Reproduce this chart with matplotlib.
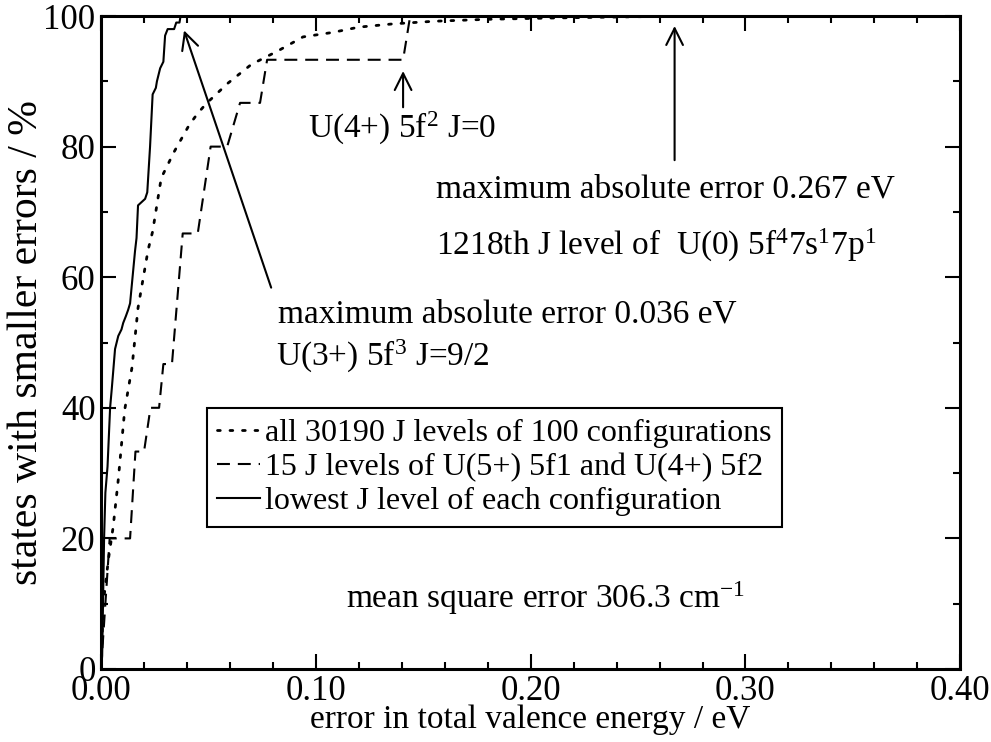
import matplotlib
matplotlib.use("Agg")
import matplotlib.pyplot as plt
from matplotlib.ticker import MultipleLocator, FormatStrFormatter

plt.rcParams["font.family"] = ["Liberation Serif", "DejaVu Serif"]
plt.rcParams["mathtext.fontset"] = "custom"
plt.rcParams["mathtext.rm"] = "Liberation Serif"
plt.rcParams["mathtext.it"] = "Liberation Serif:italic"
plt.rcParams["mathtext.default"] = "rm"

# datos: error (eV) y porcentaje acumulado
todos_x = [0.0, 0.001, 0.0035, 0.0056, 0.008, 0.011, 0.0144, 0.0172, 0.0219, 0.024,
           0.028, 0.034, 0.041, 0.045, 0.049, 0.059, 0.070, 0.082, 0.094, 0.108,
           0.120, 0.136, 0.155, 0.18, 0.21, 0.25, 0.298]
todos_y = [0.0, 10.0, 17.0, 21.7, 29.0, 39.7, 46.2, 55.3, 64.2, 67.0,
           75.2, 79.2, 83.3, 85.1, 86.6, 89.7, 92.6, 94.6, 96.8, 97.5,
           98.3, 98.8, 99.2, 99.5, 99.7, 99.9, 100.0]

u_x = [0.0, 0.004, 0.0135, 0.016, 0.020, 0.023, 0.027, 0.029, 0.033, 0.038,
       0.045, 0.051, 0.0587, 0.0647, 0.074, 0.0773, 0.1406, 0.1439, 0.145]
u_y = [0.0, 20.0, 20.0, 33.3, 33.3, 40.0, 40.0, 46.7, 46.7, 66.7,
       66.7, 80.0, 80.0, 86.7, 86.7, 93.3, 93.3, 100.0, 100.0]

bajo_x = [0.0, 0.0005, 0.0014, 0.002, 0.003, 0.0042, 0.005, 0.0065, 0.008, 0.0095,
          0.0103, 0.0115, 0.0126, 0.0135, 0.0158, 0.0165, 0.0172, 0.0205, 0.0215, 0.0228,
          0.024, 0.0255, 0.026, 0.0275, 0.029, 0.0298, 0.031, 0.034, 0.035, 0.0365, 0.037]
bajo_y = [0.0, 2.0, 20.0, 27.0, 31.0, 40.0, 43.0, 49.0, 51.0, 52.0,
          53.0, 54.0, 55.0, 56.0, 64.0, 66.0, 71.0, 72.0, 73.0, 80.0,
          88.0, 89.0, 90.0, 92.0, 93.0, 97.0, 98.0, 98.0, 99.0, 99.0, 100.0]

etiquetas = ["all 30190 J levels of 100 configurations",
             "15 J levels of U(5+) 5f1 and U(4+) 5f2",
             "lowest J level of each configuration"]

fig = plt.figure(figsize=(9.91, 7.42), dpi=100)
ax = fig.add_axes([0.102, 0.0984, 0.867, 0.88])

ax.plot(todos_x, todos_y, color="black", lw=2.0, linestyle=(0, (1, 3.5)),
        dash_capstyle="round", label=etiquetas[0])
ax.plot(u_x, u_y, color="black", lw=1.5, linestyle=(0, (6.2, 3.8)), label=etiquetas[1])
ax.plot(bajo_x, bajo_y, color="black", lw=1.5, label=etiquetas[2])

ax.set_xlim(0, 0.40)
ax.set_ylim(0, 100)
ax.xaxis.set_major_locator(MultipleLocator(0.1))
ax.xaxis.set_minor_locator(MultipleLocator(0.02))
ax.xaxis.set_major_formatter(FormatStrFormatter("%.2f"))
ax.yaxis.set_major_locator(MultipleLocator(20))
ax.yaxis.set_minor_locator(MultipleLocator(10))
ax.tick_params(which="both", direction="in", top=True, right=True, width=1.5,
               labelsize=25)
ax.tick_params(which="major", length=11, pad=4)
ax.tick_params(which="minor", length=5)
for s in ax.spines.values():
    s.set_linewidth(2.2)

ax.set_xlabel("error in total valence energy / eV", fontsize=24, labelpad=-2)
ax.set_ylabel("states with smaller errors / %", fontsize=30, labelpad=-2)

flecha = dict(arrowstyle="->", lw=1.5, color="black", mutation_scale=30)
ax.annotate("", xy=(0.0382, 98.2), xytext=(0.0796, 58.0), arrowprops=flecha)
ax.annotate("", xy=(0.1406, 92.0), xytext=(0.1406, 85.6), arrowprops=flecha)
ax.annotate("", xy=(0.267, 98.9), xytext=(0.267, 77.5), arrowprops=flecha)

fs = 24
ax.text(0.0964, 82.8, "U(4+) 5f$^{2}$ J=0", fontsize=fs, va="center")
ax.text(0.156, 73.4, "maximum absolute error 0.267 eV", fontsize=fs, va="center")
ax.text(0.156, 64.9, "1218th J level of  U(0) 5f$^{4}$7s$^{1}$7p$^{1}$", fontsize=fs, va="center")
ax.text(0.0824, 54.4, "maximum absolute error 0.036 eV", fontsize=fs, va="center")
ax.text(0.0815, 47.8, "U(3+) 5f$^{3}$ J=9/2", fontsize=fs, va="center")
ax.text(0.1140, 10.9, "mean square error 306.3 cm$^{-1}$", fontsize=fs, va="center")

leg = ax.legend(loc="upper left", bbox_to_anchor=(0.123, 0.40), borderaxespad=0,
                fontsize=23, fancybox=False, framealpha=1, edgecolor="black",
                handlelength=1.35, handletextpad=0.15, labelspacing=0.15,
                borderpad=0.33)
leg.get_frame().set_linewidth(1.5)

fig.savefig("out.png", dpi=100)
